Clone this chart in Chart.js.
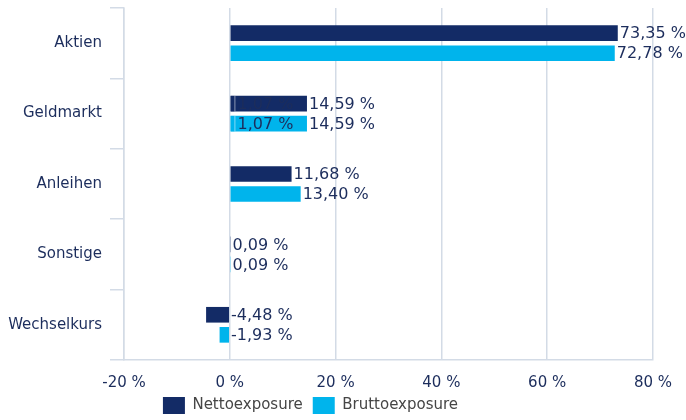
<!DOCTYPE html>
<html>
<head>
<meta charset="utf-8">
<script src="https://cdn.jsdelivr.net/npm/chart.js@4/dist/chart.umd.min.js"></script>
<style>
  html, body { margin: 0; padding: 0; background: #fff; }
  #wrap { width: 686px; height: 420px; }
</style>
</head>
<body>
<div id="wrap"><canvas id="barChart"></canvas></div>
<script>
const categories = ["Aktien", "Geldmarkt", "Anleihen", "Sonstige", "Wechselkurs"];
const netto = [73.35, 14.59, 11.68, 0.09, -4.48];
const brutto = [72.78, 14.59, 13.40, 0.09, -1.93];
// second, smaller Geldmarkt position drawn over the main bar
const nettoExtra = [null, 1.07, null, null, null];
const bruttoExtra = [null, 1.07, null, null, null];
const xTicks = [-20, 0, 20, 40, 60, 80];

const navy = "#132b66";
const cyan = "#00b4ec";
const textColor = "#1c2d5c";
const gridColor = "#d3dbe6";
const font = "DejaVu Sans";

const fmt = (v) => v.toFixed(2).replace(".", ",") + " %";

const valueLabels = {
  id: "valueLabels",
  afterDatasetsDraw(chart) {
    const ctx = chart.ctx;
    ctx.save();
    ctx.font = "16px " + font;
    ctx.fillStyle = textColor;
    ctx.textBaseline = "middle";
    ctx.textAlign = "left";
    // main datasets first, extras last (on top)
    [0, 1, 2, 3].forEach((di) => {
      const meta = chart.getDatasetMeta(di);
      const data = chart.data.datasets[di].data;
      meta.data.forEach((el, i) => {
        if (data[i] == null) return;
        const x = Math.max(el.x, el.base) + 2;
        ctx.fillText(fmt(data[i]), x, el.y + 1);
      });
    });
    ctx.restore();
  },
};

// legend sits a bit left of the canvas centre
const legendShift = {
  id: "legendShift",
  afterLayout(chart) {
    chart.legend.left -= 17;
    chart.legend.right -= 17;
  },
};

const barChart = document.querySelector("#barChart");
const graph = new Chart(barChart, {
  type: "bar",
  data: {
    labels: categories,
    datasets: [
      {
        label: "Nettoexposure",
        data: netto,
        backgroundColor: navy,
        stack: "n",
      },
      {
        label: "Bruttoexposure",
        data: brutto,
        backgroundColor: cyan,
        stack: "b",
      },
      {
        label: "extraN",
        data: nettoExtra,
        backgroundColor: navy,
        borderColor: "#ffffff",
        borderWidth: { right: 1, left: 0, top: 0, bottom: 0 },
        borderSkipped: false,
        stack: "n",
        order: -1,
      },
      {
        label: "extraB",
        data: bruttoExtra,
        backgroundColor: cyan,
        borderColor: "#ffffff",
        borderWidth: { right: 1, left: 0, top: 0, bottom: 0 },
        borderSkipped: false,
        stack: "b",
        order: -1,
      },
    ],
  },
  options: {
    indexAxis: "y",
    responsive: true,
    maintainAspectRatio: false,
    animation: false,
    categoryPercentage: 0.57,
    barPercentage: 0.78,
    layout: { padding: { top: 8, right: 31, left: 0, bottom: -4 } },
    scales: {
      x: {
        stacked: false,
        min: -20,
        max: 80,
        afterBuildTicks(scale) {
          scale.ticks = xTicks.map((v) => ({ value: v }));
        },
        afterFit(scale) {
          scale.height = 27;
        },
        ticks: {
          color: textColor,
          font: { family: font, size: 15 },
          padding: 14,
          callback: (v) => v + " %",
        },
        grid: {
          color: gridColor,
          lineWidth: 1.5,
          drawTicks: false,
        },
        border: { color: gridColor, width: 1.5 },
      },
      y: {
        afterFit(scale) {
          scale.width = 124;
          scale.paddingTop = 0;
          scale.paddingBottom = 0;
        },
        ticks: {
          color: textColor,
          font: { family: font, size: 15 },
          padding: 8,
        },
        grid: {
          offset: true,
          drawOnChartArea: false,
          color: gridColor,
          lineWidth: 1.5,
          tickLength: 14,
        },
        border: { color: gridColor, width: 1.5 },
      },
    },
    plugins: {
      legend: {
        position: "bottom",
        labels: {
          color: "#454545",
          font: { family: font, size: 15 },
          boxWidth: 22,
          boxHeight: 17,
          padding: 10,
          filter: (item) => item.datasetIndex < 2,
        },
      },
      tooltip: { enabled: false },
    },
  },
  plugins: [valueLabels, legendShift],
});
</script>
</body>
</html>
